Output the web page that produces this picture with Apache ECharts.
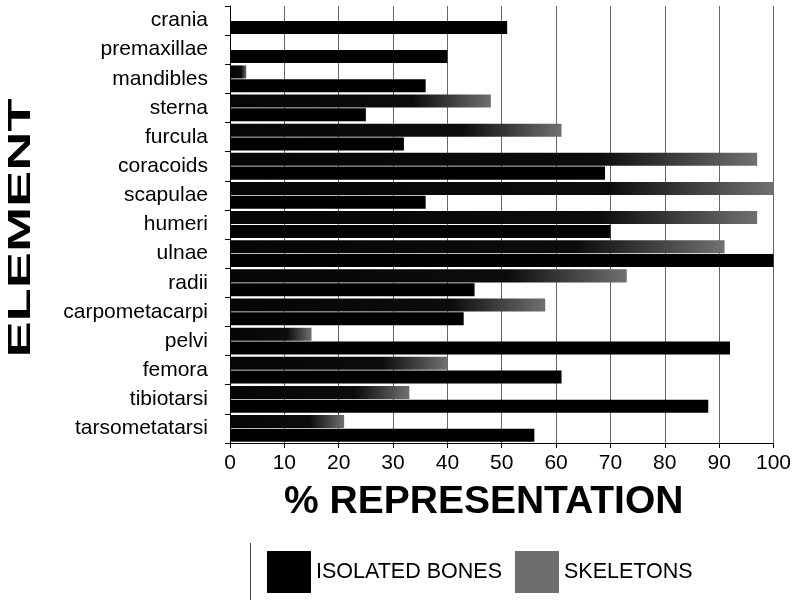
<!DOCTYPE html>
<html>
<head>
<meta charset="utf-8">
<script src="https://cdn.jsdelivr.net/npm/echarts@6/dist/echarts.min.js"></script>
<style>html,body{margin:0;padding:0;background:#fff}#c{width:794px;height:603px}</style>
</head>
<body>
<div id="c"></div>
<script>
const categories = ['crania','premaxillae','mandibles','sterna','furcula','coracoids','scapulae','humeri','ulnae','radii','carpometacarpi','pelvi','femora','tibiotarsi','tarsometatarsi'];
const isolatedBones = [51, 40, 36, 25, 32, 69, 36, 70, 100, 45, 43, 92, 61, 88, 56];
const skeletons = [0, 0, 3, 48, 61, 97, 100, 97, 91, 73, 58, 15, 40, 33, 21];
const xTicks = [0, 10, 20, 30, 40, 50, 60, 70, 80, 90, 100];

const chart = echarts.init(document.getElementById('c'), null, {renderer: 'canvas'});
const font = '"Liberation Sans", Arial, sans-serif';
const skelColor = new echarts.graphic.LinearGradient(0, 0, 1, 0, [
  {offset: 0, color: '#050505'}, {offset: 0.7, color: '#0c0c0c'}, {offset: 1, color: '#707070'}
]);
chart.setOption({
  animation: false,
  backgroundColor: '#fff',
  grid: {left: 230, right: 18, top: 6, bottom: 160},
  xAxis: {
    type: 'value', min: xTicks[0], max: xTicks[xTicks.length - 1], interval: xTicks[1] - xTicks[0],
    name: '% REPRESENTATION', nameLocation: 'middle', nameGap: 40,
    nameTextStyle: {fontFamily: font, fontWeight: 'bold', fontSize: 39, color: '#000', padding: [0, 36, 0, 0]},
    axisLine: {show: true, lineStyle: {color: '#000', width: 1}},
    axisTick: {show: true, length: 5, lineStyle: {color: '#000'}},
    axisLabel: {fontFamily: font, fontSize: 21, color: '#000', margin: 10},
    splitLine: {show: true, lineStyle: {color: '#666', width: 1}}
  },
  yAxis: {
    type: 'category', data: categories, inverse: true,
    axisLine: {show: true, lineStyle: {color: '#000', width: 1}},
    axisTick: {show: true, length: 5, lineStyle: {color: '#000'}},
    axisLabel: {fontFamily: font, fontSize: 21, color: '#000', margin: 22}
  },
  legend: {
    left: 262, top: 546, itemWidth: 44, itemHeight: 42, itemGap: 13, icon: 'rect',
    textStyle: {fontFamily: font, fontSize: 21.5, color: '#000'},
    data: [
      {name: 'ISOLATED BONES', itemStyle: {color: '#000'}},
      {name: 'SKELETONS', itemStyle: {color: '#6e6e6e'}}
    ]
  },
  graphic: [
    {
      type: 'text', x: 21, y: 228, rotation: Math.PI / 2, scaleX: 1.75,
      style: {text: 'ELEMENT', font: 'bold 31px ' + font, fill: '#000', align: 'center', verticalAlign: 'middle'}
    },
    {
      type: 'line', shape: {x1: 250.5, y1: 543, x2: 250.5, y2: 600},
      style: {stroke: '#444', lineWidth: 1}
    }
  ],
  series: [
    {name: 'SKELETONS', type: 'bar', data: skeletons, barGap: '6%', barCategoryGap: '8%',
     itemStyle: {color: skelColor}},
    {name: 'ISOLATED BONES', type: 'bar', data: isolatedBones, barGap: '6%', barCategoryGap: '8%',
     itemStyle: {color: '#000'}}
  ]
});
</script>
</body>
</html>
